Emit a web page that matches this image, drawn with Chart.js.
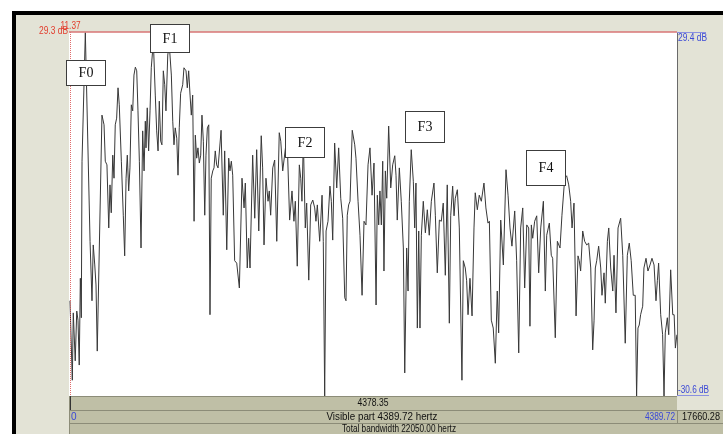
<!DOCTYPE html>
<html>
<head>
<meta charset="utf-8">
<script src="https://cdn.jsdelivr.net/npm/chart.js@4.4.1/dist/chart.umd.min.js"></script>
<style>
  html, body { margin: 0; padding: 0; background: #fff; overflow: hidden; }
  canvas { display: block; }
</style>
</head>
<body>
<canvas id="spectrum" width="723" height="434"></canvas>
<script>
// Spectrum slice: frequency (Hz) and sound pressure level (dB/Hz)
const freqHz = [
  7,24,31,45,56,65,74,82,89,94,
  118,152,166,175,186,195,204,238,253,262,
  274,287,296,305,316,325,334,344,354,363,
  378,392,402,412,421,431,440,450,460,469,
  479,489,498,508,520,532,542,551,556,565,
  575,585,594,609,623,633,643,652,662,671,
  681,691,700,713,724,739,749,758,767,778,
  787,796,806,821,830,845,854,864,874,883,
  893,903,912,922,931,941,951,960,970,980,
  989,999,1009,1018,1027,1038,1047,1056,1066,1076,
  1098,1114,1124,1139,1153,1162,1172,1182,1196,1211,
  1230,1249,1264,1273,1287,1297,1307,1326,1341,1355,
  1370,1388,1398,1408,1422,1437,1446,1456,1471,1485,
  1500,1518,1529,1543,1574,1593,1610,1624,1634,1648,
  1663,1673,1682,1692,1706,1716,1731,1745,1760,1774,
  1783,1793,1810,1827,1836,1846,1856,1870,1884,1894,
  1904,1918,1933,1947,1962,1976,1991,2000,2009,2019,
  2029,2045,2063,2072,2087,2101,2116,2130,2144,2159,
  2173,2188,2202,2217,2226,2236,2245,2255,2265,2274,
  2284,2294,2308,2323,2337,2352,2361,2370,2385,2399,
  2414,2424,2438,2448,2457,2471,2486,2496,2505,2515,
  2525,2534,2544,2558,2573,2587,2601,2616,2635,2645,
  2659,2674,2688,2702,2717,2731,2746,2756,2770,2780,
  2789,2804,2818,2837,2847,2861,2871,2881,2895,2910,
  2924,2933,2948,2962,2977,2996,3010,3025,3035,3049,
  3063,3078,3092,3102,3117,3136,3155,3170,3184,3198,
  3218,3232,3247,3261,3276,3290,3305,3319,3328,3338,
  3348,3362,3377,3391,3406,3425,3439,3449,3468,3482,
  3492,3511,3526,3545,3559,3579,3593,3608,3622,3632,
  3646,3661,3675,3684,3694,3709,3723,3738,3752,3767,
  3781,3791,3800,3810,3824,3839,3848,3863,3872,3887,
  3897,3911,3926,3935,3949,3964,3983,3998,4016,4031,
  4045,4059,4074,4088,4098,4108,4117,4127,4142,4151,
  4166,4180,4195,4209,4224,4238,4248,4257,4272,4286,
  4296,4305,4320,4330,4344,4359,4369,4378,4389
];
const levelDb = [
  -14.9,-28.0,-16.9,-24.8,-16.6,-18.1,-25.5,-11.2,-17.7,8.1,
  29.3,-5.1,-14.9,-5.7,-9.0,-12.3,-23.2,15.7,14.1,8.1,
  7.5,-2.9,4.2,-0.4,9.1,5.3,14.1,15.2,20.2,17.4,
  8.1,-0.8,-7.5,5.3,9.1,3.2,7.0,17.4,16.4,22.3,
  23.6,23.0,16.4,8.1,-6.2,13.1,6.5,14.7,10.3,16.9,
  9.8,16.4,23.5,27.8,19.0,13.1,9.8,18.0,11.4,10.8,
  23.0,20.7,16.4,25.6,27.3,22.3,14.7,10.8,13.6,11.9,
  5.8,13.6,19.3,20.7,23.5,23.0,20.2,23.0,19.0,15.7,
  19.0,-1.8,12.4,8.6,10.3,7.8,9.1,15.7,11.4,-0.8,
  9.1,13.6,14.1,-17.2,5.3,6.5,7.0,9.8,7.5,7.0,
  13.2,-0.8,9.8,-6.5,8.6,6.5,8.1,5.8,-8.3,-8.7,
  -12.8,5.3,0.4,4.5,-9.5,-4.6,-9.5,9.1,-1.3,10.0,
  -3.4,12.3,7.0,-5.7,5.3,1.5,3.2,-0.8,7.0,8.3,
  -5.1,12.8,11.4,6.5,12.4,-1.6,3.2,-1.8,1.5,-9.2,
  7.5,5.3,1.5,11.6,-2.9,1.2,-11.5,0.9,1.7,0.4,
  -1.8,0.9,-5.1,2.5,-5.1,-30.6,-3.4,-1.8,4.0,1.5,
  -4.9,11.1,3.7,10.3,2.0,-1.3,-14.4,-14.9,-0.8,0.9,
  1.5,13.2,10.8,8.6,1.5,-4.1,-14.0,-1.8,-2.4,7.5,
  10.3,2.5,7.8,-15.6,2.5,-2.4,3.2,-2.4,8.1,-10.0,
  6.5,2.0,13.9,3.7,7.5,9.0,5.8,-1.6,7.0,1.5,
  -6.2,-26.8,-6.2,-13.3,1.5,10.0,4.8,-2.9,4.5,-19.4,
  -3.4,-19.4,-4.1,1.5,-3.7,0.1,-4.1,1.5,4.5,-0.8,
  -10.3,-1.6,-1.8,1.2,-10.7,4.2,-18.6,-0.8,4.0,-0.9,
  2.0,3.4,-2.9,-28.0,-8.3,-9.5,-11.6,-17.2,-11.2,-17.4,
  -2.9,2.9,0.1,2.5,1.5,4.5,0.4,-2.1,-1.8,-18.1,
  -19.4,-25.2,-13.3,-20.2,-1.6,-9.0,6.7,2.5,-2.9,-5.9,
  -0.1,-8.3,-23.5,-2.9,0.4,-12.8,-2.4,-2.9,-19.1,-2.4,
  -4.6,-1.8,-0.9,-10.3,-2.9,1.5,-13.3,-4.1,-2.1,-7.4,
  -7.9,-21.0,-5.1,-6.2,-0.8,5.3,5.7,4.2,1.5,-2.9,
  1.2,-17.4,-7.5,-8.3,-10.0,-3.4,-5.1,-5.7,-5.4,-9.5,
  -23.0,-18.1,-9.5,-8.3,-5.9,-9.5,-14.0,-10.3,-15.3,-5.1,
  -2.9,-9.5,-13.3,-7.4,-16.9,-2.9,-1.3,-7.4,-21.9,-7.4,
  -5.4,-8.3,-14.0,-14.0,-30.6,-19.4,-18.9,-17.2,-15.8,-9.5,
  -7.9,-10.0,-9.0,-7.9,-9.0,-14.9,-11.6,-8.7,-17.2,-20.5,
  -30.6,-20.2,-17.7,-20.5,-9.8,-17.2,-17.2,-22.7,-20.5
];

// Formant annotations (label, frequency, level of box centre)
const formantLabels = ['F0', 'F1', 'F2', 'F3', 'F4'];
const formantHz = [119, 726, 1697, 2567, 3437];
const formantDb = [22.7, 28.4, 11.3, 13.9, 7.1];

// Visible window and cursor
const viewMinHz = 0;
const viewMaxHz = 4389.72;
const nyquistHz = 22050.00;
const dbBottom = -30.6;
const dbTop = 29.4;
const cursorHz = 11.37;
const cursorDb = 29.3;

const boxHeights = [25, 28, 30, 31, 35];
const SANS = "10px 'Liberation Sans', Arial, Helvetica, sans-serif";
const SERIF = "14px 'Liberation Serif', 'Times New Roman', serif";

// narrow UI text: 10px glyphs squeezed to the given width
function uiText(ctx, text, x, y, align, maxW) {
  ctx.textAlign = align;
  ctx.fillText(text, x, y, maxW);
}

const praatFrame = {
  id: 'praatFrame',
  beforeDraw(chart) {
    const { ctx, chartArea: a, width: W, height: H } = chart;
    ctx.save();
    ctx.fillStyle = '#ffffff';
    ctx.fillRect(0, 0, W, H);
    ctx.fillStyle = '#e3e3d6';
    ctx.fillRect(16, 15, W - 16, H - 15);
    ctx.fillStyle = '#000000';
    ctx.fillRect(12, 11, W - 12, 4);
    ctx.fillRect(12, 11, 4, H - 11);
    ctx.fillStyle = '#ffffff';
    ctx.fillRect(a.left, a.top, a.right - a.left, a.bottom - a.top);
    ctx.restore();
  },
  afterDatasetsDraw(chart) {
    const { ctx, chartArea: a, width: W, scales } = chart;
    const xs = scales.x, ys = scales.y;
    const cx = xs.getPixelForValue(cursorHz);
    const cy = ys.getPixelForValue(cursorDb);
    ctx.save();

    // right edge of the drawing area
    ctx.strokeStyle = '#6a6a6a';
    ctx.lineWidth = 1;
    ctx.beginPath();
    ctx.moveTo(a.right + 0.5, a.top);
    ctx.lineTo(a.right + 0.5, a.bottom);
    ctx.stroke();

    // cursor cross
    ctx.strokeStyle = '#e06a6a';
    ctx.setLineDash([1, 1]);
    ctx.beginPath();
    ctx.moveTo(Math.round(cx) - 0.5, a.top);
    ctx.lineTo(Math.round(cx) - 0.5, a.bottom);
    ctx.stroke();
    ctx.setLineDash([]);
    ctx.strokeStyle = '#d97676';
    ctx.lineWidth = 1.5;
    ctx.beginPath();
    ctx.moveTo(a.left, cy - 0.5);
    ctx.lineTo(a.right, cy - 0.5);
    ctx.stroke();

    ctx.font = SANS;

    // cursor readouts
    ctx.fillStyle = '#e23c2c';
    ctx.textBaseline = 'middle';
    uiText(ctx, cursorDb.toFixed(1) + ' dB', a.left - 1, a.top - 1, 'right', 29);
    uiText(ctx, cursorHz.toFixed(2), cx, a.top - 6, 'center', 20);

    // vertical range markers on the right
    ctx.fillStyle = '#3a48d6';
    ctx.strokeStyle = '#8a90e0';
    ctx.lineWidth = 1;
    ctx.beginPath();
    ctx.moveTo(a.right, a.top + 0.5);
    ctx.lineTo(a.right + 29, a.top + 0.5);
    ctx.moveTo(a.right, a.bottom - 0.5);
    ctx.lineTo(a.right + 32, a.bottom - 0.5);
    ctx.stroke();
    ctx.textBaseline = 'top';
    uiText(ctx, dbTop.toFixed(1) + ' dB', a.right + 1, a.top + 1, 'left', 29);
    ctx.textBaseline = 'bottom';
    uiText(ctx, dbBottom.toFixed(1) + ' dB', a.right + 1, a.bottom - 1, 'left', 31);

    // bottom information bars
    const r1 = a.bottom, r2 = a.bottom + 14, r3 = a.bottom + 27;
    ctx.fillStyle = '#bfbfa6';
    ctx.fillRect(a.left, r1, a.right - a.left, 14);
    ctx.fillRect(a.left, r2, W - a.left, 13);
    ctx.fillRect(a.left, r3, W - a.left, chart.height - r3);
    ctx.strokeStyle = '#8c8c78';
    ctx.beginPath();
    ctx.moveTo(a.left, r1 + 0.5); ctx.lineTo(a.right, r1 + 0.5);
    ctx.moveTo(a.left, r2 + 0.5); ctx.lineTo(W, r2 + 0.5);
    ctx.moveTo(a.left, r3 + 0.5); ctx.lineTo(W, r3 + 0.5);
    ctx.moveTo(a.left + 0.5, r1); ctx.lineTo(a.left + 0.5, chart.height);
    ctx.moveTo(a.right + 0.5, r2); ctx.lineTo(a.right + 0.5, r3);
    ctx.stroke();
    ctx.strokeStyle = '#333333';
    ctx.beginPath();
    ctx.moveTo(Math.round(cx) - 0.5, r1);
    ctx.lineTo(Math.round(cx) - 0.5, r2);
    ctx.stroke();

    ctx.textBaseline = 'middle';
    ctx.fillStyle = '#111111';
    uiText(ctx, (viewMaxHz - cursorHz).toFixed(2), (a.left + a.right) / 2, r1 + 7.5, 'center', 31);
    uiText(ctx, 'Visible part ' + (viewMaxHz - viewMinHz).toFixed(2) + ' hertz', 382, r2 + 7, 'center', 111);
    uiText(ctx, 'Total bandwidth ' + nyquistHz.toFixed(2) + ' hertz', 399, r3 + 6.5, 'center', 114);
    uiText(ctx, (nyquistHz - viewMaxHz).toFixed(2), a.right + 5, r2 + 7, 'left', 38);
    ctx.fillStyle = '#3a48d6';
    uiText(ctx, viewMinHz.toFixed(0), a.left + 2, r2 + 7, 'left', 6);
    uiText(ctx, viewMaxHz.toFixed(2), a.right - 2, r2 + 7, 'right', 30);

    // formant boxes
    ctx.font = SERIF;
    ctx.textAlign = 'center';
    ctx.textBaseline = 'middle';
    formantLabels.forEach((lab, i) => {
      const bx = xs.getPixelForValue(formantHz[i]);
      const by = ys.getPixelForValue(formantDb[i]);
      const w = 39, h = boxHeights[i];
      const x0 = Math.round(bx - w / 2), y0 = Math.round(by - h / 2);
      ctx.fillStyle = '#ffffff';
      ctx.fillRect(x0, y0, w, h);
      ctx.strokeStyle = '#3c3c3c';
      ctx.lineWidth = 1;
      ctx.strokeRect(x0 + 0.5, y0 + 0.5, w, h);
      ctx.fillStyle = '#111111';
      ctx.fillText(lab, x0 + w / 2 + 0.5, y0 + h / 2 + 1);
    });
    ctx.restore();
  }
};

new Chart(document.getElementById('spectrum'), {
  type: 'scatter',
  data: {
    datasets: [{
      data: freqHz.map((f, i) => ({ x: f, y: levelDb[i] })),
      showLine: true,
      borderColor: '#383838',
      borderWidth: 1,
      pointRadius: 0,
      tension: 0
    }]
  },
  options: {
    responsive: false,
    animation: false,
    devicePixelRatio: 1,
    layout: { padding: { left: 69, right: 46, top: 32, bottom: 38 } },
    scales: {
      x: { type: 'linear', min: viewMinHz, max: viewMaxHz, display: false },
      y: { type: 'linear', min: dbBottom, max: dbTop, display: false }
    },
    plugins: { legend: { display: false }, tooltip: { enabled: false } },
    events: []
  },
  plugins: [praatFrame]
});
</script>
</body>
</html>
